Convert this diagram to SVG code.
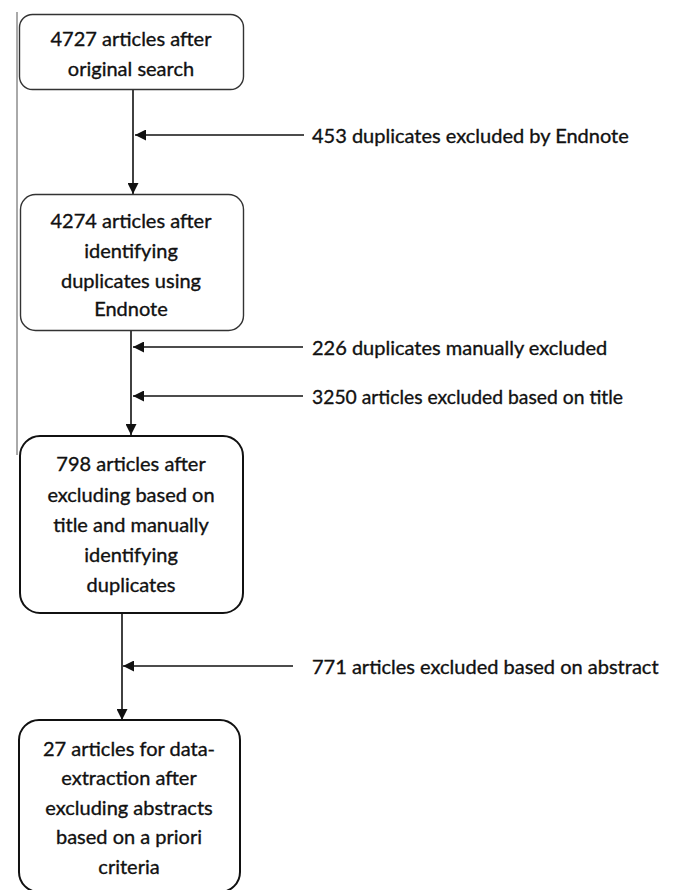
<svg xmlns="http://www.w3.org/2000/svg" width="674" height="890" viewBox="0 0 674 890">
<defs>
<marker id="ah" viewBox="0 0 10 10" refX="10" refY="5" markerWidth="11" markerHeight="11" markerUnits="userSpaceOnUse" orient="auto">
<path d="M0,0 L10,5 L0,10 Z" fill="#111"/>
</marker>
<style>
.t{font-family:Lato,"Open Sans",sans-serif;font-size:20px;fill:#111;stroke:#111;stroke-width:0.35;text-anchor:middle;dominant-baseline:central}
.l{font-family:Lato,"Open Sans",sans-serif;font-size:20px;fill:#111;stroke:#111;stroke-width:0.35;dominant-baseline:central}
.b1{fill:#fff;stroke:#333;stroke-width:1.4}
.b2{fill:#fff;stroke:#111;stroke-width:2}
.c{fill:none;stroke:#111;stroke-width:1.6}
</style>
</defs>
<rect width="674" height="890" fill="#fff"/>
<line x1="17" y1="12" x2="17" y2="455" stroke="#555" stroke-width="1"/>
<g id="connectors">
<line class="c" x1="133" y1="89" x2="133" y2="194" marker-end="url(#ah)"/>
<line class="c" x1="304" y1="135" x2="135" y2="135" marker-end="url(#ah)"/>
<line class="c" x1="131" y1="330" x2="131" y2="435" marker-end="url(#ah)"/>
<line class="c" x1="303" y1="347" x2="133" y2="347" marker-end="url(#ah)"/>
<line class="c" x1="303" y1="396" x2="133" y2="396" marker-end="url(#ah)"/>
<line class="c" x1="122" y1="613" x2="122" y2="720" marker-end="url(#ah)"/>
<line class="c" x1="293" y1="666" x2="123" y2="666" marker-end="url(#ah)"/>
</g>
<g id="label1"><text class="l" x="312" y="135">453 duplicates excluded by Endnote</text></g>
<g id="label2"><text class="l" x="312" y="347">226 duplicates manually excluded</text></g>
<g id="label3"><text class="l" x="312" y="396" textLength="311" lengthAdjust="spacingAndGlyphs">3250 articles excluded based on title</text></g>
<g id="label4"><text class="l" x="312" y="666">771 articles excluded based on abstract</text></g>
<g id="n1">
<rect class="b1" x="19.500" y="14.500" width="224" height="75" rx="13"/>
<text class="t" x="131" y="38">4727 articles after</text>
<text class="t" x="131" y="68">original search</text>
</g>
<g id="n2">
<rect class="b1" x="20.500" y="194.500" width="223" height="136" rx="15"/>
<text class="t" x="131" y="220">4274 articles after</text>
<text class="t" x="131" y="250">identifying</text>
<text class="t" x="131" y="280">duplicates using</text>
<text class="t" x="131" y="308">Endnote</text>
</g>
<g id="n3">
<rect class="b2" x="20" y="436" width="223" height="177" rx="20"/>
<text class="t" x="131" y="463">798 articles after</text>
<text class="t" x="131" y="494">excluding based on</text>
<text class="t" x="131" y="524">title and manually</text>
<text class="t" x="131" y="554">identifying</text>
<text class="t" x="131" y="584">duplicates</text>
</g>
<g id="n4">
<rect class="b2" x="19" y="720" width="221" height="172" rx="20"/>
<text class="t" x="129" y="748">27 articles for data-</text>
<text class="t" x="129" y="777">extraction after</text>
<text class="t" x="129" y="807">excluding abstracts</text>
<text class="t" x="129" y="836">based on a priori</text>
<text class="t" x="129" y="866">criteria</text>
</g>
</svg>
